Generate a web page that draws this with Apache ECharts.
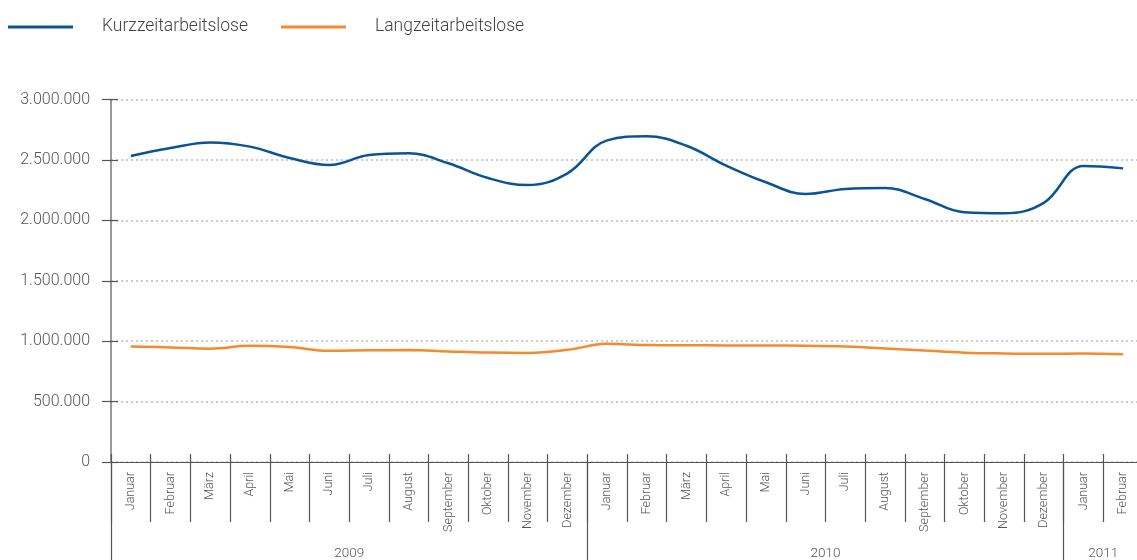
<!DOCTYPE html>
<html>
<head>
    <meta charset="UTF-8">
    <title>Kurz- und Langzeitarbeitslose</title>
    <script src="https://cdn.jsdelivr.net/npm/echarts@6/dist/echarts.min.js"></script>
    <style>
        html, body {margin: 0; padding: 0; background: #fff;}
        #main {width: 1137px; height: 560px;}
    </style>
</head>
<body>
<div id="main"></div>
<script>
    // Monate (Kategorien)
    var months = ['Januar', 'Februar', 'März', 'April', 'Mai', 'Juni', 'Juli', 'August', 'September', 'Oktober', 'November', 'Dezember',
        'Januar', 'Februar', 'März', 'April', 'Mai', 'Juni', 'Juli', 'August', 'September', 'Oktober', 'November', 'Dezember',
        'Januar', 'Februar'];
    var years = ['2009', '2010', '2011'];
    var yearMonths = [12, 12, 2];

    var kurzzeit = [2532000, 2598000, 2645000, 2610000, 2516000, 2458000, 2540000, 2555000, 2472000, 2350000, 2292000, 2389000,
        2662000, 2695000, 2617000, 2453000, 2315000, 2218000, 2260000, 2268000, 2177000, 2066000, 2058000, 2145000,
        2450000, 2430000];
    var langzeit = [956000, 948000, 938000, 962000, 952000, 920000, 924000, 926000, 915000, 906000, 903000, 928000,
        978000, 968000, 966000, 965000, 964000, 962000, 955000, 940000, 922000, 905000, 898000, 895000,
        898000, 892000];

    // Jahresgrenzen und -mitten auf der Monatsskala
    var yearStarts = [], yearMids = [];
    var acc = 0;
    for (var i = 0; i < yearMonths.length; i++) {
        yearStarts.push(acc);
        yearMids.push(acc + yearMonths[i] / 2);
        acc += yearMonths[i];
    }

    function fmt(v) {
        return String(v).replace(/\B(?=(\d{3})+(?!\d))/g, '.');
    }

    var font = 'Roboto';
    var myChart = echarts.init(document.getElementById('main'));

    myChart.setOption({
        animation: false,
        textStyle: {fontFamily: font},
        legend: {
            left: 3,
            top: 13,
            icon: 'rect',
            itemWidth: 65,
            itemHeight: 3,
            itemGap: 33,
            textStyle: {
                fontFamily: font,
                fontWeight: 300,
                fontSize: 17.5,
                color: '#444',
                padding: [0, 0, 0, 24]
            },
            data: ['Kurzzeitarbeitslose', 'Langzeitarbeitslose']
        },
        grid: {left: 111, width: 1032, top: 99.5, bottom: 98, containLabel: false, outerBoundsMode: 'none'},
        xAxis: [{
            type: 'category',
            position: 'bottom',
            data: months,
            boundaryGap: true,
            axisLine: {lineStyle: {color: '#555', width: 1.2}},
            axisTick: {show: true, interval: 0, length: 60, lineStyle: {color: '#555', width: 1.2}},
            axisLabel: {
                interval: 0, rotate: 90, margin: 10,
                fontFamily: font, fontWeight: 300, fontSize: 12.5, color: '#555'
            },
            splitLine: {show: false}
        }, {
            // kurze Striche oberhalb der Achse
            type: 'value',
            position: 'bottom',
            min: 0, max: months.length, interval: 1,
            axisLine: {show: false},
            axisTick: {show: true, inside: true, length: 8, lineStyle: {color: '#555', width: 1.2}},
            axisLabel: {show: false},
            splitLine: {show: false}
        }, {
            // Jahre
            type: 'value',
            position: 'bottom',
            min: 0, max: months.length,
            axisLine: {show: false},
            axisTick: {show: true, customValues: yearStarts, length: 100, lineStyle: {color: '#555', width: 1.2}},
            axisLabel: {
                customValues: yearMids, margin: 85,
                formatter: function (v) {
                    return years[yearMids.indexOf(v)];
                },
                fontFamily: font, fontWeight: 300, fontSize: 13.5, color: '#555'
            },
            splitLine: {show: false}
        }],
        yAxis: [{
            type: 'value',
            min: 0, max: 3000000, interval: 500000,
            axisLine: {show: true, lineStyle: {color: '#777', width: 1.5}},
            axisTick: {show: true, length: 9, lineStyle: {color: '#555', width: 1.2}},
            axisLabel: {
                margin: 21,
                formatter: function (v) { return fmt(v); },
                fontFamily: font, fontWeight: 300, fontSize: 16, color: '#555'
            },
            splitLine: {show: true, lineStyle: {type: [2, 3], color: '#bbb', width: 1.5}}
        }, {
            type: 'value',
            position: 'left',
            min: 0, max: 3000000, interval: 500000,
            axisLine: {show: false},
            axisTick: {show: true, inside: true, length: 7, lineStyle: {color: '#555', width: 1.2}},
            axisLabel: {show: false},
            splitLine: {show: false}
        }],
        series: [{
            name: 'Kurzzeitarbeitslose',
            type: 'line',
            data: kurzzeit,
            smooth: 0.4,
            symbol: 'none',
            itemStyle: {color: '#0a5494'},
            lineStyle: {color: '#0a5494', width: 2.5}
        }, {
            name: 'Langzeitarbeitslose',
            type: 'line',
            data: langzeit,
            smooth: 0.4,
            symbol: 'none',
            itemStyle: {color: '#f5892b'},
            lineStyle: {color: '#f5892b', width: 2.5}
        }]
    });
</script>
</body>
</html>
